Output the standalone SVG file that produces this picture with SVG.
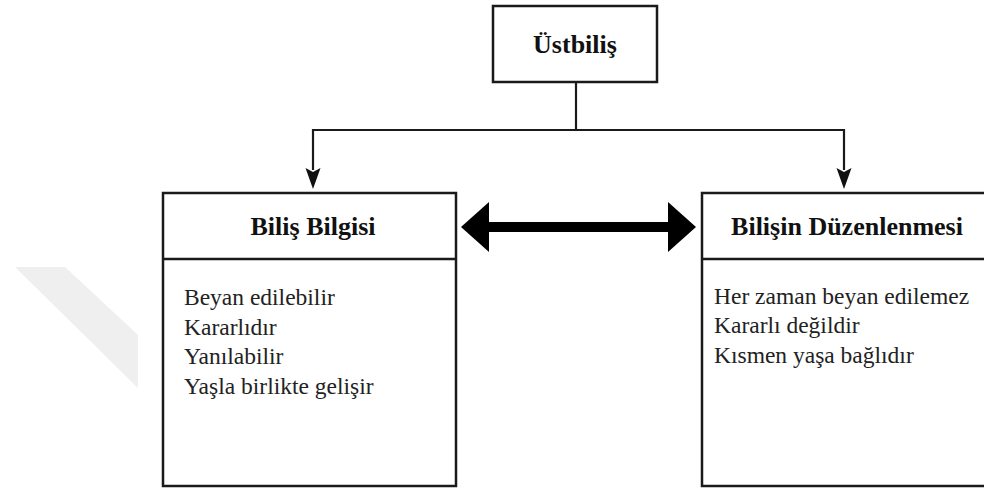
<svg xmlns="http://www.w3.org/2000/svg" width="984" height="490" viewBox="0 0 984 490">
  <style>
    .box { fill: #fff; stroke: #1a1a1a; stroke-width: 2.5; }
    .div { stroke: #1a1a1a; stroke-width: 2.5; }
    .title { font-family: 'Liberation Serif', Tinos, 'Times New Roman', Times, 'DejaVu Serif', serif; font-weight: bold; font-size: 26px; fill: #111; text-anchor: middle; }
    .body { font-family: 'Liberation Serif', Tinos, 'Times New Roman', Times, 'DejaVu Serif', serif; font-size: 23.5px; fill: #222; }
    .conn { fill: none; stroke: #1a1a1a; stroke-width: 2.2; }
    .head { fill: #111; }
  </style>
  <rect width="984" height="490" fill="#fff"/>
  <polygon points="15,267 65,267 138,335 138,388" fill="#efefef"/>

  <g id="connectors">
    <path class="conn" d="M576,82 V130"/>
    <path class="conn" d="M313,130 H844"/>
    <line x1="313" y1="129" x2="313" y2="170" class="conn"/>
    <path class="head" d="M305.5,168 L313,172 L320.5,168 L313,189 Z"/>
    <line x1="844" y1="129" x2="844" y2="170" class="conn"/>
    <path class="head" d="M836.5,168 L844,172 L851.5,168 L844,189 Z"/>
    <g id="double-arrow">
      <rect x="486" y="222" width="185" height="10" fill="#000"/>
      <polygon points="461,227 489,202 489,252" fill="#000"/>
      <polygon points="696,227 668,202 668,252" fill="#000"/>
    </g>
  </g>

  <g id="ustbilis">
    <rect class="box" x="493" y="6" width="164" height="76"/>
    <text class="title" x="575" y="53">Üstbiliş</text>
  </g>

  <g id="bilis-bilgisi">
    <rect class="box" x="163" y="193" width="293" height="293"/>
    <line class="div" x1="163" y1="259" x2="456" y2="259"/>
    <text class="title" x="313" y="235">Biliş Bilgisi</text>
    <text class="body" x="184" y="305">Beyan edilebilir</text>
    <text class="body" x="184" y="335">Kararlıdır</text>
    <text class="body" x="184" y="364">Yanılabilir</text>
    <text class="body" x="184" y="394">Yaşla birlikte gelişir</text>
  </g>

  <g id="bilisin-duzenlenmesi">
    <rect class="box" x="702" y="193" width="300" height="293"/>
    <line class="div" x1="702" y1="259" x2="990" y2="259"/>
    <text class="title" x="847" y="235">Bilişin Düzenlenmesi</text>
    <text class="body" x="714" y="304">Her zaman beyan edilemez</text>
    <text class="body" x="714" y="333">Kararlı değildir</text>
    <text class="body" x="714" y="363">Kısmen yaşa bağlıdır</text>
  </g>
</svg>
